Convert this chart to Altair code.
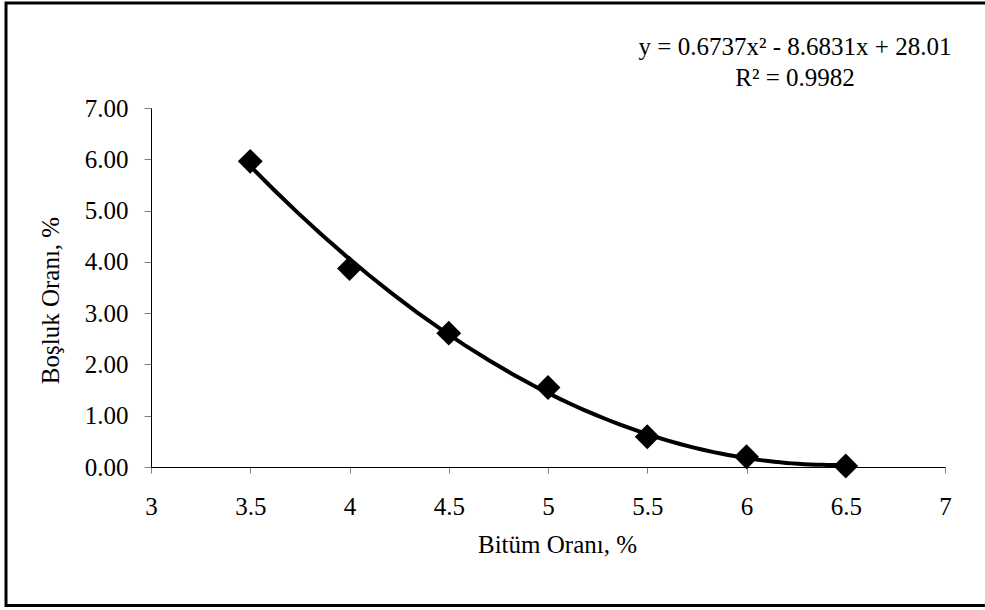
import altair as alt
import pandas as pd

# Bitumen content (%) vs. air void ratio (%) from the mix tests
bitum = [3.5, 4.0, 4.5, 5.0, 5.5, 6.0, 6.5]
bosluk = [5.96, 3.87, 2.61, 1.55, 0.59, 0.20, 0.02]

# Second-order trend line as reported with the chart
coef_a, coef_b, coef_c = 0.6737, -8.6831, 28.01
r_squared = 0.9982

x_ticks = [3, 3.5, 4, 4.5, 5, 5.5, 6, 6.5, 7]
y_ticks = [0, 1, 2, 3, 4, 5, 6, 7]

df = pd.DataFrame({"x": bitum, "y": bosluk})

FONT = "Liberation Serif"

x_scale = alt.Scale(domain=[3, 7], nice=False, zero=False)
y_scale = alt.Scale(domain=[0, 7], nice=False)

x_axis = alt.Axis(
    values=x_ticks, format="~g", grid=False,
    domainColor="black", domainWidth=1,
    tickColor="#808080", tickSize=6,
    labelFont=FONT, labelFontSize=25, labelColor="black",
    labelBaseline="alphabetic", labelPadding=41, labelFlush=False,
    title="Bitüm Oranı, %", titleFont=FONT, titleFontSize=25,
    titleFontWeight="normal", titleColor="black",
    titleX=406, titleY=85, titleBaseline="alphabetic",
)
y_axis = alt.Axis(
    values=y_ticks, format=".2f", grid=False,
    domainColor="black", domainWidth=1,
    tickColor="#808080", tickSize=7,
    labelFont=FONT, labelFontSize=25, labelColor="black",
    labelPadding=16, labelFlush=False,
    title="Boşluk Oranı, %", titleFont=FONT, titleFontSize=25,
    titleFontWeight="normal", titleColor="black",
    titleX=-93, titleY=192, titleBaseline="alphabetic", titleAngle=270,
)

base = alt.Chart(df)

trend = base.transform_regression(
    "x", "y", method="poly", order=2
).mark_line(color="black", strokeWidth=4).encode(
    x=alt.X("x:Q", scale=x_scale, axis=x_axis),
    y=alt.Y("y:Q", scale=y_scale, axis=y_axis),
)

points = base.mark_point(
    shape="diamond", size=620, filled=True, color="black", opacity=1
).encode(
    x=alt.X("x:Q", scale=x_scale),
    y=alt.Y("y:Q", scale=y_scale),
)

eq_text = "y = {:.4f}x² - {:.4f}x + {:.2f}\nR² = {:.4f}".format(
    coef_a, abs(coef_b), coef_c, r_squared
)
equation = alt.Chart(pd.DataFrame({"t": [eq_text]})).mark_text(
    font=FONT, fontSize=25, color="black", align="center",
    baseline="alphabetic", lineBreak="\n", lineHeight=31,
).encode(
    text="t:N",
    x=alt.value(644),
    y=alt.value(-53),
)

frame = alt.Chart(pd.DataFrame({"k": [0]})).mark_rect(
    fill=None, stroke="black", strokeWidth=3, clip=False
).encode(
    x=alt.value(-145), x2=alt.value(845),
    y=alt.value(-105), y2=alt.value(497.5),
)

chart = alt.layer(trend, points, equation, frame).properties(
    width=794, height=359,
    autosize=alt.AutoSizeParams(type="none"),
    padding={"left": 151, "top": 108, "right": 40, "bottom": 143},
    background="white",
).configure_view(stroke=None)

chart.save("out.html", embed_options={"renderer": "svg", "actions": False})
